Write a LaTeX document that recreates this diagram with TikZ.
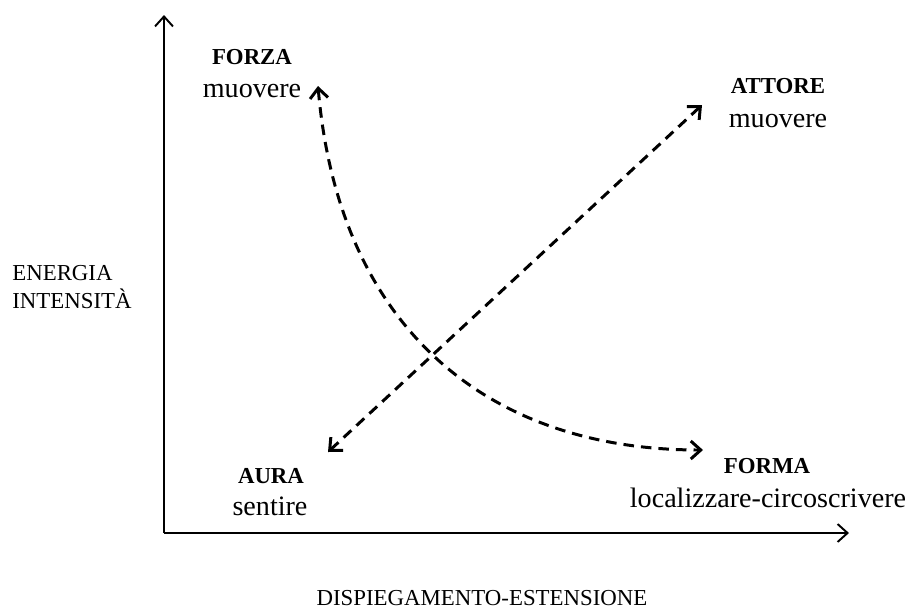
\documentclass[tikz,border=0pt]{standalone}
\usepackage{fontspec}
\setmainfont{Liberation Serif}
\usetikzlibrary{arrows.meta}

\tikzset{
	axis/.style={line width=1.1pt,-{Straight Barb[length=2mm,width=3.6mm]}},
	link/.style={line width=1.7pt,dash pattern=on 6pt off 4pt,
		{Straight Barb[length=2mm,width=3.6mm]}-{Straight Barb[length=2mm,width=3.6mm]}},
	head/.style={anchor=base,inner sep=0pt,font=\fontsize{13}{15}\selectfont\bfseries},
	verb/.style={anchor=base,inner sep=0pt,font=\fontsize{16}{19}\selectfont},
	axlabel/.style={inner sep=0pt,font=\fontsize{13}{15}\selectfont}
}

\begin{document}
\begin{tikzpicture}[x=0.02cm,y=-0.02cm]
		\useasboundingbox (0,0) rectangle (913,610);
		
		% axes
		\coordinate (origin) at (164,533);
		\coordinate (ytop) at (164,15);
		\coordinate (xend) at (849,533);
		\draw [axis] (origin) -- (ytop);
		\draw [axis] (origin) -- (xend);
		
		\node[axlabel,anchor=base west] (energia) at (12,280) {ENERGIA};
		\node[axlabel,anchor=base west] (intensita) at (12,308) {INTENSITÀ};
		\node[axlabel,anchor=base] (dispiegamento) at (482,605) {DISPIEGAMENTO-ESTENSIONE};
		
		% labels
		\node[head] (forza) at (252,64) {FORZA};
		\node[verb] (forzaverb) at (252,97) {muovere};
		\node[head] (attore) at (778,93) {ATTORE};
		\node[verb] (attoreverb) at (778,127) {muovere};
		\node[head] (aura) at (271,483) {AURA};
		\node[verb] (auraverb) at (270,515) {sentire};
		\node[head] (forma) at (767,473) {FORMA};
		\node[verb] (formaverb) at (768,507) {localizzare-circoscrivere};
		
		% dashed links
		\coordinate (forzaend) at (318,86);
		\coordinate (formaend) at (703,450);
		\coordinate (auraend) at (328,452);
		\coordinate (attoreend) at (702,105);
		\draw [link] (forzaend) .. controls (338,320) and (480,450) .. (formaend);
		\draw [link] (auraend) -- (attoreend);
	\end{tikzpicture}
\end{document}
